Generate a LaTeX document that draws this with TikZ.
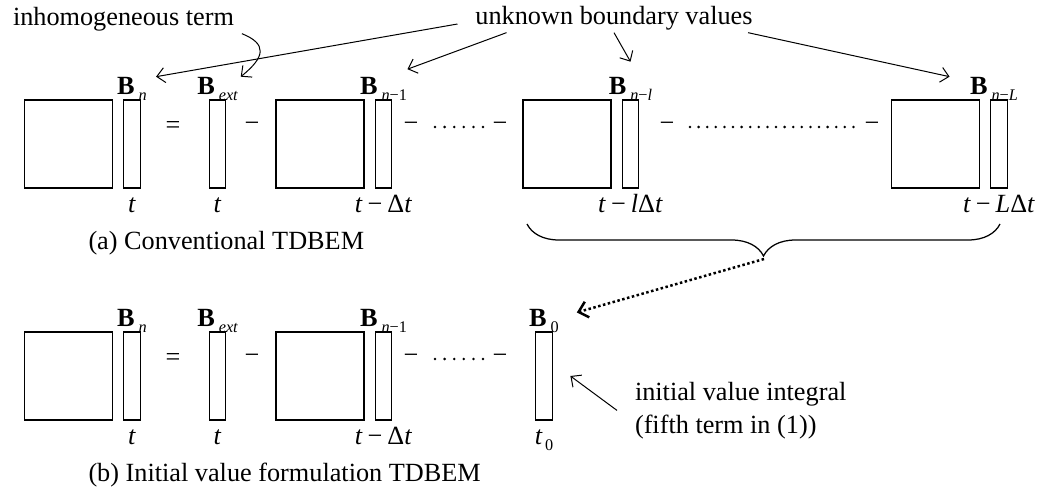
\documentclass[tikz,border=0pt]{standalone}
\usepackage{fontspec}
\setmainfont{Liberation Serif}
\usetikzlibrary{positioning,arrows.meta,decorations.pathreplacing}
\newcommand{\Bv}[1]{\textbf{B}\kern1.6pt\raisebox{-0.5ex}{\fontsize{6.5}{7}\selectfont\itshape #1}}
\newcommand{\tv}{\textit{t}}
\tikzset{
  mat/.style={draw,line width=0.5pt,minimum width=35.2pt,minimum height=35.2pt,inner sep=0pt},
  vec/.style={draw,line width=0.5pt,minimum width=6.6pt,minimum height=35.2pt,inner sep=0pt},
  op/.style={inner sep=0pt},
  blab/.style={anchor=base,inner sep=0pt},
  tlab/.style={anchor=base,inner sep=0pt},
  pointer/.style={-{Straight Barb[length=3.2pt,width=6pt]},line width=0.4pt},
  dotarrow/.style={-{Straight Barb[length=3.5pt,width=6.5pt]},line width=1pt,dash pattern=on 1pt off 1pt}
}
\begin{document}
\begin{tikzpicture}[x=0.4pt,y=-0.4pt,font=\fontsize{10.5}{13.2}\selectfont]
\useasboundingbox (0,0) rectangle (1037,500);
% left part, same in both rows
\foreach \r/\y in {a/144,b/376}{
  \node[mat] (m\r1) at (68.5,\y) {};
  \node[vec,right=4pt of m\r1] (v\r1) {};
  \node[op] (eq\r) at (173,\y-17) {=};
  \node[vec] (v\r2) at (217.5,\y) {};
  \node[op] (mi\r1) at (252,\y-17) {−};
  \node[mat] (m\r2) at (320,\y) {};
  \node[vec,right=4pt of m\r2] (v\r3) {};
  \node[op] (mi\r2) at (411,\y-17) {−};
  \foreach \k in {0,...,5} \fill (435+9.6*\k,\y-17) circle[radius=1.4];
  \node[op] (mi\r3) at (500,\y-17) {−};
  \node[blab] (B\r1) at ([yshift=2pt]v\r1.north) {\Bv{n}};
  \node[blab] (B\r2) at ([yshift=2pt]v\r2.north) {\Bv{ext}};
  \node[blab] (B\r3) at ([yshift=2pt]v\r3.north) {\Bv{n{\upshape −1}}};
  \node[tlab] (t\r1) at ([yshift=-9.6pt]v\r1.south) {\tv};
  \node[tlab] (t\r2) at ([yshift=-9.6pt]v\r2.south) {\tv};
  \node[tlab] (t\r3) at ([yshift=-9.6pt]v\r3.south) {\tv\kern2pt−\kern2ptΔ\tv};
}
% row (a)
\node[mat] (ma3) at (567,144) {};
\node[vec,right=4pt of ma3] (va4) {};
\node[op] (mia4) at (667,127) {−};
\foreach \k in {0,...,19} \fill (690+8.6*\k,127) circle[radius=1.4];
\node[op] (mia5) at (872,127) {−};
\node[mat] (ma4) at (935.5,144) {};
\node[vec,right=4pt of ma4] (va5) {};
\node[blab] (Ba4) at ([yshift=2pt]va4.north) {\Bv{n{\upshape −}l}};
\node[blab] (Ba5) at ([shift={(-2pt,2pt)}]va5.north) {\Bv{n{\upshape −}L}};
\node[tlab] (ta4) at ([yshift=-9.6pt]va4.south) {\tv\kern2pt−\kern2pt\textit{l}Δ\tv};
\node[tlab] (ta5) at ([yshift=-9.6pt]va5.south) {\tv\kern2pt−\kern2pt\textit{L}Δ\tv};
\node[anchor=base west,inner sep=0pt] (capa) at (88,249) {(a) Conventional TDBEM};
% row (b)
\node[vec] (vb4) at (544,376) {};
\node[blab] (Bb4) at ([yshift=2pt]vb4.north) {\Bv{\upshape 0}};
\node[tlab] (tb4) at ([yshift=-9.6pt]vb4.south) {\tv\kern1pt\raisebox{-0.45ex}{\fontsize{6.5}{7}\selectfont 0}};
\node[anchor=base west,inner sep=0pt] (capb) at (88,481) {(b) Initial value formulation TDBEM};
% annotations
\node[anchor=base west,inner sep=1pt] (inhom) at (10,25) {inhomogeneous term};
\node[anchor=base,inner sep=1pt] (ukn) at (614,24) {unknown boundary values};
\node[anchor=north west,inner sep=1pt,align=left] (ivi) at (632,379) {initial value integral\\(fifth term in (1))};
\draw[pointer] ([xshift=2pt]inhom.south east) .. controls +(25,10) and +(25,-20) .. ([xshift=1pt]Ba2.north east);
\draw[pointer] ([xshift=-6pt]ukn.base west) -- ([xshift=3.5pt]Ba1.north east);
\draw[pointer] ([xshift=13.6pt]ukn.south west) -- ([yshift=3pt]Ba3.north east);
\draw[pointer] (ukn.south) -- ([yshift=6pt]Ba4.north);
\draw[pointer] ([xshift=-3pt]ukn.south east) -- ([xshift=-8pt]Ba5.north west);
\draw[pointer] ([xshift=-6pt]ivi.west) -- ([xshift=7pt]vb4.east);
% brace over the old time steps
\draw[line width=0.5pt,decorate,decoration={brace,amplitude=12.8pt}] (1000,224) -- (527,224);
\coordinate (btip) at (764,259);
\draw[dotarrow] (btip) -- ([shift={(7pt,-1.5pt)}]Bb4.north east);
\end{tikzpicture}
\end{document}
